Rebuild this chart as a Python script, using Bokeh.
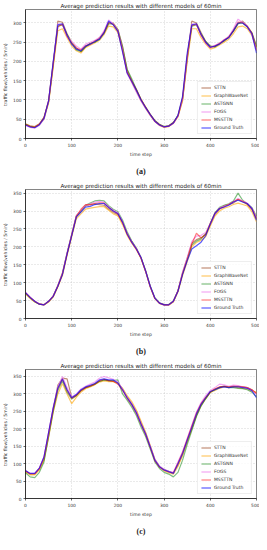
from bokeh.plotting import figure
from bokeh.layouts import column
from bokeh.models import Range1d, Title, FixedTicker, Legend
from bokeh.embed import file_html
from bokeh.resources import INLINE

t = list(range(0, 501, 10))

series_names = ["STTN", "GraphWaveNet", "ASTGNN", "FOGS", "MSSTTN", "Ground Truth"]
series_colors = ["#a0522d", "orange", "green", "violet", "red", "blue"]
series_alpha = [0.65, 0.6, 0.5, 0.7, 0.5, 0.65]

# Panel (a)
sttn_a = [38,33,31,38,55,95,190,305,302,272,250,236,225,238,248,250,262,272,300,300,283,240,178,150,128,102,82,63,47,37,31,33,42,58,100,205,305,300,275,252,240,238,248,253,265,278,298,305,292,275,240]
gwn_a = [36,32,30,37,50,92,185,280,285,262,240,228,222,236,242,248,255,270,292,290,275,232,172,146,122,98,78,60,44,34,29,31,39,56,98,200,285,285,262,245,232,236,243,250,258,272,290,292,285,268,235]
astgnn_a = [37,31,29,35,53,96,195,292,295,270,248,230,226,238,246,250,257,274,298,297,282,238,180,155,127,101,80,62,46,36,31,33,41,60,104,210,292,295,272,252,240,238,246,254,263,279,298,300,290,274,238]
fogs_a = [34,29,27,34,50,97,198,298,296,265,252,240,232,245,250,255,262,280,308,298,280,230,168,145,120,97,78,60,44,34,30,32,39,58,103,212,298,296,268,248,236,242,248,257,265,285,310,302,292,270,230]
msst_a = [36,31,29,37,54,99,195,290,297,266,247,234,230,241,244,253,259,276,302,296,279,228,172,149,126,101,81,62,45,35,30,32,40,59,106,214,293,297,269,249,236,241,246,256,263,281,302,301,291,273,228]
gt_a = [35,30,28,36,52,98,200,295,298,268,245,232,228,240,245,252,258,275,305,295,278,225,170,148,125,100,80,62,45,35,30,32,40,60,110,222,295,298,270,250,237,240,245,255,262,280,300,300,290,272,222]

# Panel (b)
sttn_b = [70,58,47,41,39,47,63,92,128,182,235,285,300,315,318,320,318,316,305,296,290,268,238,215,196,168,131,88,56,42,39,39,47,78,128,168,210,220,225,235,262,290,305,315,318,322,332,326,318,305,280]
gwn_b = [68,56,46,40,38,46,60,88,120,176,228,278,292,305,308,310,312,312,302,292,286,262,232,210,192,168,132,89,56,42,37,37,46,74,120,158,200,212,218,228,258,286,300,308,312,318,322,318,314,298,270]
astgnn_b = [71,58,47,40,38,48,62,91,125,182,233,286,300,316,322,328,330,328,315,305,298,275,242,216,196,171,134,91,58,44,39,39,49,77,126,165,205,216,222,236,266,295,310,316,320,328,350,330,320,310,285]
fogs_b = [73,60,48,41,38,48,63,92,126,184,234,288,302,316,320,325,327,324,312,302,295,270,238,214,195,170,132,89,57,43,38,38,48,77,130,170,215,230,232,240,265,292,308,314,318,326,335,328,322,308,282]
msst_b = [72,59,48,40,38,48,62,90,124,180,232,285,305,318,318,321,323,322,310,300,292,268,235,212,193,169,132,89,56,43,38,38,48,77,125,165,208,238,225,234,266,294,307,312,318,326,333,327,320,306,278]
gt_b = [72,59,48,40,38,48,62,90,123,180,231,283,297,311,313,318,321,321,310,300,293,269,236,213,194,170,133,90,57,43,38,38,48,76,123,161,194,203,213,231,264,293,307,311,316,325,330,325,321,307,274]

# Panel (c)
sttn_c = [78,70,70,85,112,180,255,325,345,343,290,295,308,318,322,328,336,340,338,336,332,315,292,272,250,218,188,150,112,92,83,78,74,96,125,165,200,238,268,288,305,314,320,322,320,322,320,320,318,312,300]
gwn_c = [76,68,68,82,110,175,248,300,330,300,272,290,305,315,320,326,334,337,335,335,330,316,295,278,254,222,190,152,112,90,80,74,70,92,124,162,200,238,266,286,304,310,316,320,318,320,318,316,314,308,305]
astgnn_c = [74,62,60,75,105,178,250,310,338,305,285,295,310,318,322,328,336,340,338,338,340,300,282,262,238,205,178,142,105,86,75,70,62,75,110,155,195,235,265,286,305,312,318,322,318,318,316,315,312,305,292]
fogs_c = [80,72,72,88,120,188,262,320,350,318,292,300,314,322,328,334,345,350,346,342,335,314,290,272,248,215,186,150,112,93,84,78,75,105,135,172,210,248,275,295,310,318,328,326,322,325,324,320,318,310,298]
msst_c = [79,71,71,86,118,188,258,315,342,310,287,296,310,318,323,328,338,342,338,336,328,310,287,268,244,212,183,146,108,90,81,76,73,102,132,170,208,245,272,290,306,314,320,322,320,322,322,320,318,312,302]
gt_c = [80,72,72,87,119,190,260,317,343,312,289,298,312,320,325,330,340,343,340,340,331,312,289,270,246,214,185,148,110,91,82,77,72,100,129,167,204,242,270,289,307,312,318,320,318,320,320,318,316,309,289]

x_ticks = [0, 100, 200, 300, 400, 500]
y_ticks_a = [0, 50, 100, 150, 200, 250, 300]
y_ticks_bc = [0, 50, 100, 150, 200, 250, 300, 350]

title_text = "Average prediction results with different models of 60min"
FONT = "DejaVu Sans"


def make_panel(data, ymax, yticks, caption, height):
    p = figure(width=259, height=height, output_backend="svg", toolbar_location=None,
               x_range=Range1d(0, 500), y_range=Range1d(0, ymax),
               min_border_left=2, min_border_right=3, min_border_top=2, min_border_bottom=2)
    p.title.text = title_text
    p.title.align = "center"
    p.title.text_font = FONT
    p.title.text_font_size = "5.6px"
    p.title.text_font_style = "normal"
    p.title.text_color = "#222222"
    p.title.standoff = 1
    p.outline_line_color = "#333333"
    p.outline_line_width = 0.6
    for ax in (p.xaxis[0], p.yaxis[0]):
        ax.major_label_text_font = FONT
        ax.major_label_text_font_size = "4.4px"
        ax.major_label_text_color = "#333333"
        ax.axis_label_text_font = FONT
        ax.axis_label_text_font_size = "4.6px"
        ax.axis_label_text_font_style = "normal"
        ax.axis_label_text_color = "#333333"
        ax.minor_tick_line_color = None
        ax.major_tick_out = 2
        ax.major_tick_in = 0
        ax.axis_line_width = 0.6
        ax.major_tick_line_width = 0.6
        ax.major_label_standoff = 2
        ax.axis_label_standoff = 2
    p.xaxis.ticker = FixedTicker(ticks=x_ticks)
    p.yaxis.ticker = FixedTicker(ticks=yticks)
    p.xaxis.axis_label = "time step"
    p.yaxis.axis_label = "traffic  flow(vehicles / 5min)"
    p.grid.grid_line_color = "#bbbbbb"
    p.grid.grid_line_dash = "1 2"
    p.grid.grid_line_width = 0.6
    items = []
    for vals, name, col, al in zip(data, series_names, series_colors, series_alpha):
        r = p.line(t, vals, line_color=col, line_alpha=al, line_width=1.2)
        items.append((name, [r]))
    leg = Legend(items=items, location="bottom_right")
    leg.label_text_font = FONT
    leg.label_text_font_size = "4.5px"
    leg.label_text_color = "#333333"
    leg.glyph_width = 10
    leg.glyph_height = 5
    leg.label_height = 5
    leg.label_standoff = 3
    leg.spacing = 3
    leg.padding = 3
    leg.margin = 4
    leg.border_line_color = "#dddddd"
    leg.border_line_width = 0.5
    leg.background_fill_alpha = 0.8
    p.add_layout(leg)
    cap = Title(text=caption, align="center", text_font="Liberation Serif",
                text_font_style="bold", text_font_size="8px", text_color="#222222")
    p.add_layout(cap, "below")
    return p


pa = make_panel([sttn_a, gwn_a, astgnn_a, fogs_a, msst_a, gt_a], 335, y_ticks_a, "(a)", 180)
pb = make_panel([sttn_b, gwn_b, astgnn_b, fogs_b, msst_b, gt_b], 360, y_ticks_bc, "(b)", 180)
pc = make_panel([sttn_c, gwn_c, astgnn_c, fogs_c, msst_c, gt_c], 370, y_ticks_bc, "(c)", 180)

layout = column(pa, pb, pc, spacing=0)
open("out.html", "w").write(file_html(layout, INLINE))
